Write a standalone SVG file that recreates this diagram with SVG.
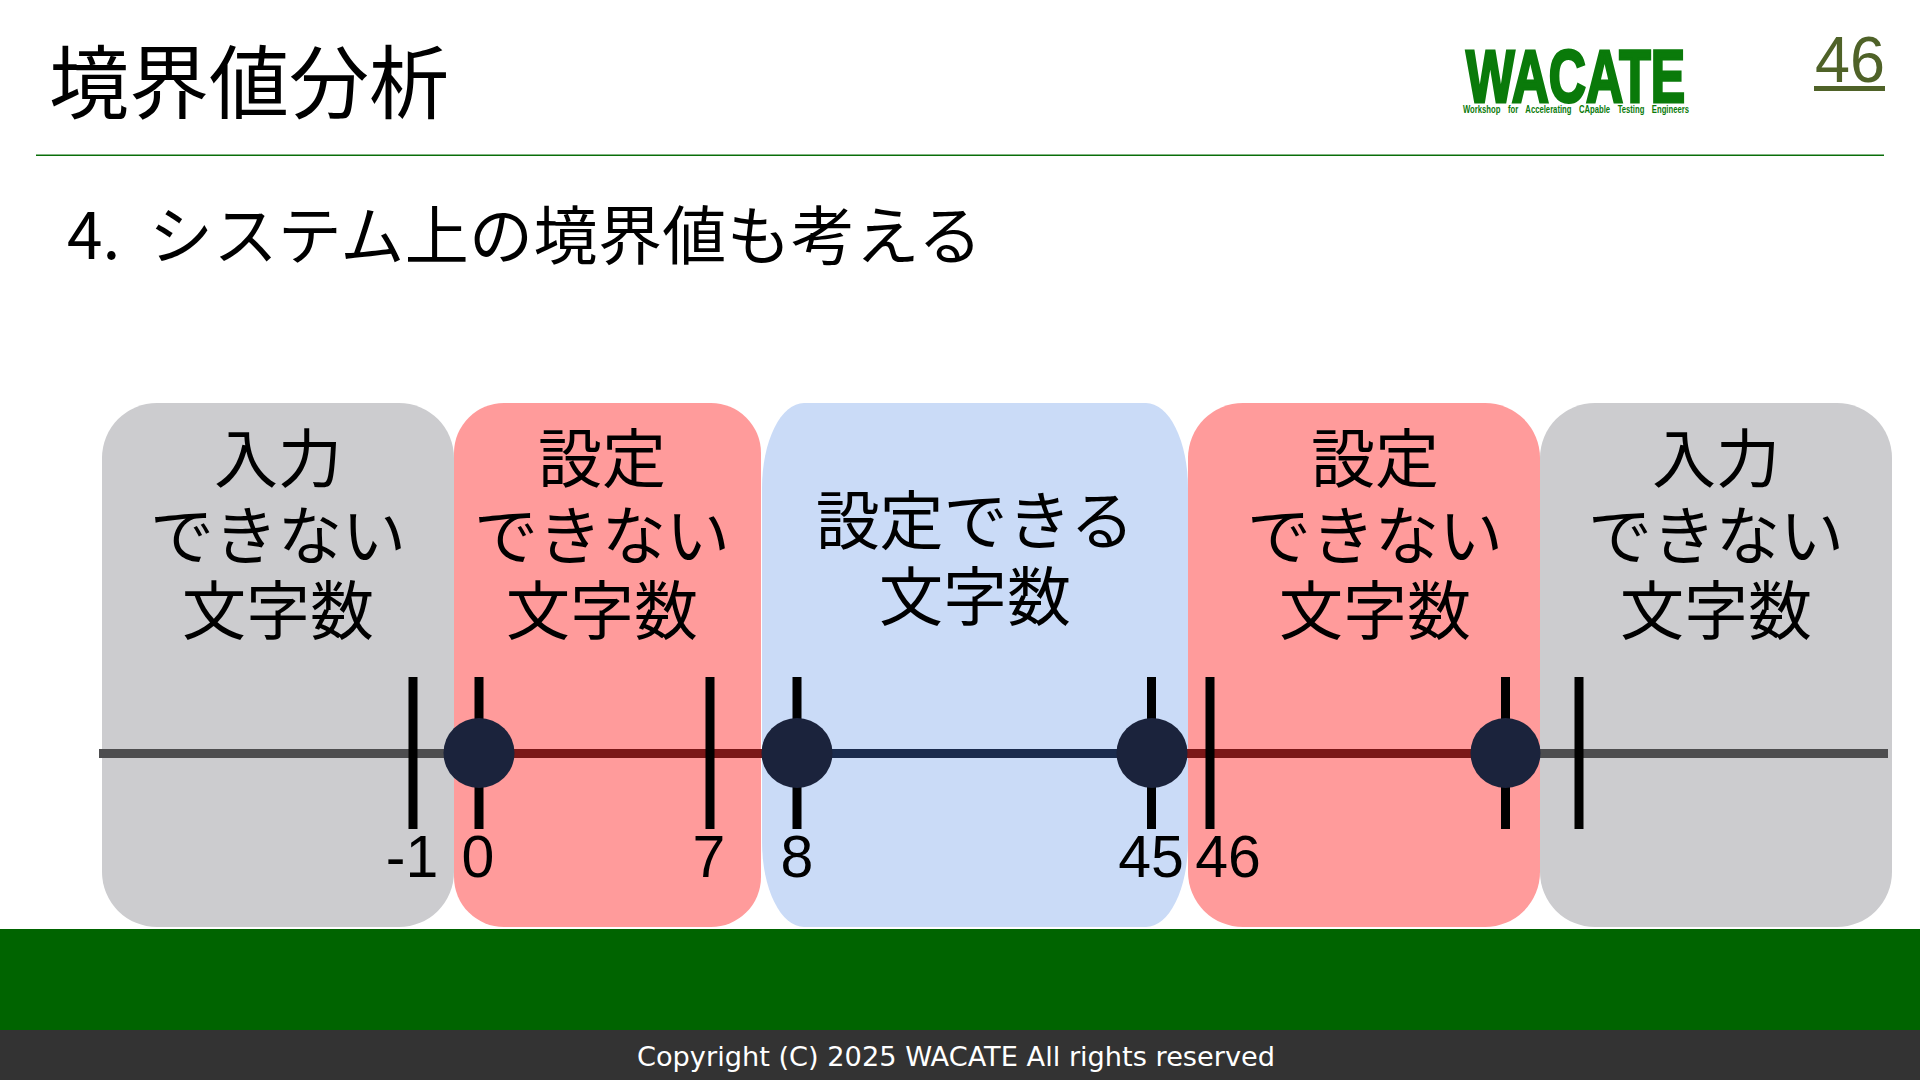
<svg xmlns="http://www.w3.org/2000/svg" width="1920" height="1080" viewBox="0 0 1920 1080">
<style>
text{font-family:"Liberation Sans","Noto Sans CJK JP",sans-serif;fill:#000}
.j{font-size:64px;text-anchor:middle;font-family:"Noto Sans CJK JP","Liberation Sans",sans-serif;font-weight:400}
.n{font-size:59px;text-anchor:middle}
.t{stroke:#000;stroke-width:9}
.d{fill:#1b233c}
</style>
<rect width="1920" height="1080" fill="#fff"/>
<g id="header">
<text x="49" y="112" font-size="80" style="font-family:'Noto Sans CJK JP',sans-serif">境界値分析</text>
<text x="1466" y="102" font-size="74" font-weight="700" textLength="219" lengthAdjust="spacingAndGlyphs" style="fill:#0a7a0a;stroke:#0a7a0a;stroke-width:3;font-family:'Liberation Sans',sans-serif">WACATE</text>
<text x="1463" y="113" font-size="10" font-weight="700" textLength="226" lengthAdjust="spacingAndGlyphs" word-spacing="7" style="fill:#0a7a0a">Workshop for Accelerating CApable Testing Engineers</text>
<text x="1815" y="82" font-size="65" textLength="70" lengthAdjust="spacingAndGlyphs" style="fill:#4f6228">46</text>
<rect x="1814" y="86" width="71" height="5" fill="#4f6228"/>
<rect x="36" y="154.500" width="1848" height="1.500" fill="#0a6e0a"/>
<text x="67" y="259" font-size="64" style="font-family:'Noto Sans CJK JP',sans-serif;font-weight:400">4.<tspan x="149" letter-spacing="0.400">システム上の境界値も考える</tspan></text>
</g>
<g id="region-gray-left"><rect x="102" y="403" width="352" height="524" rx="55" fill="#cccccf"/>
<text class="j" x="278" y="482">入力</text><text class="j" x="278" y="559">できない</text><text class="j" x="278" y="634">文字数</text></g>
<g id="region-red-left"><rect x="454" y="403" width="307" height="524" rx="50" fill="#ff9b9b"/>
<text class="j" x="602" y="482">設定</text><text class="j" x="602" y="559">できない</text><text class="j" x="602" y="634">文字数</text></g>
<g id="region-blue"><rect x="762" y="403" width="426" height="524" rx="42" ry="85" fill="#cadbf7"/>
<text class="j" x="975" y="544">設定できる</text><text class="j" x="975" y="620">文字数</text></g>
<g id="region-red-right"><rect x="1188" y="403" width="352" height="524" rx="55" fill="#ff9b9b"/>
<text class="j" x="1375" y="482">設定</text><text class="j" x="1375" y="559">できない</text><text class="j" x="1375" y="634">文字数</text></g>
<g id="region-gray-right"><rect x="1540" y="403" width="352" height="524" rx="55" fill="#cccccf"/>
<text class="j" x="1716" y="482">入力</text><text class="j" x="1716" y="559">できない</text><text class="j" x="1716" y="634">文字数</text></g>
<g id="connectors">
<line x1="99" y1="753.500" x2="444" y2="753.500" stroke="#4d4d4f" stroke-width="9"/>
<line x1="479" y1="753.500" x2="797" y2="753.500" stroke="#7b1717" stroke-width="9"/>
<line x1="797" y1="753.500" x2="1151" y2="753.500" stroke="#1a2b4d" stroke-width="9"/>
<line x1="1151" y1="753.500" x2="1505" y2="753.500" stroke="#7b1717" stroke-width="9"/>
<line x1="1505" y1="753.500" x2="1888" y2="753.500" stroke="#4d4d4f" stroke-width="9"/>
<line class="t" x1="413" y1="677" x2="413" y2="829"/>
<line class="t" x1="479" y1="677" x2="479" y2="829"/>
<line class="t" x1="710" y1="677" x2="710" y2="829"/>
<line class="t" x1="797" y1="677" x2="797" y2="829"/>
<line class="t" x1="1151.500" y1="677" x2="1151.500" y2="829"/>
<line class="t" x1="1210" y1="677" x2="1210" y2="829"/>
<line class="t" x1="1505.500" y1="677" x2="1505.500" y2="829"/>
<line class="t" x1="1579" y1="677" x2="1579" y2="829"/>
</g>
<g id="point-0"><ellipse class="d" cx="479" cy="753" rx="35.500" ry="35"/></g>
<g id="point-8"><ellipse class="d" cx="797" cy="753" rx="35.500" ry="35"/></g>
<g id="point-45"><ellipse class="d" cx="1152" cy="753" rx="35.500" ry="35"/></g>
<g id="point-upper"><ellipse class="d" cx="1505.500" cy="753" rx="35" ry="35"/></g>
<g id="labels">
<text class="n" x="412" y="877">-1</text>
<text class="n" x="478" y="877">0</text>
<text class="n" x="709" y="877">7</text>
<text class="n" x="797" y="877">8</text>
<text class="n" x="1151" y="877">45</text>
<text class="n" x="1228" y="877">46</text>
</g>
<g id="footer">
<rect y="929" width="1920" height="101" fill="#006400"/>
<rect y="1030" width="1920" height="50" fill="#333"/>
<text x="637" y="1066" font-size="26" textLength="638" lengthAdjust="spacingAndGlyphs" style="fill:#fff;font-family:'DejaVu Sans',sans-serif">Copyright (C) 2025 WACATE All rights reserved</text>
</g>
</svg>
